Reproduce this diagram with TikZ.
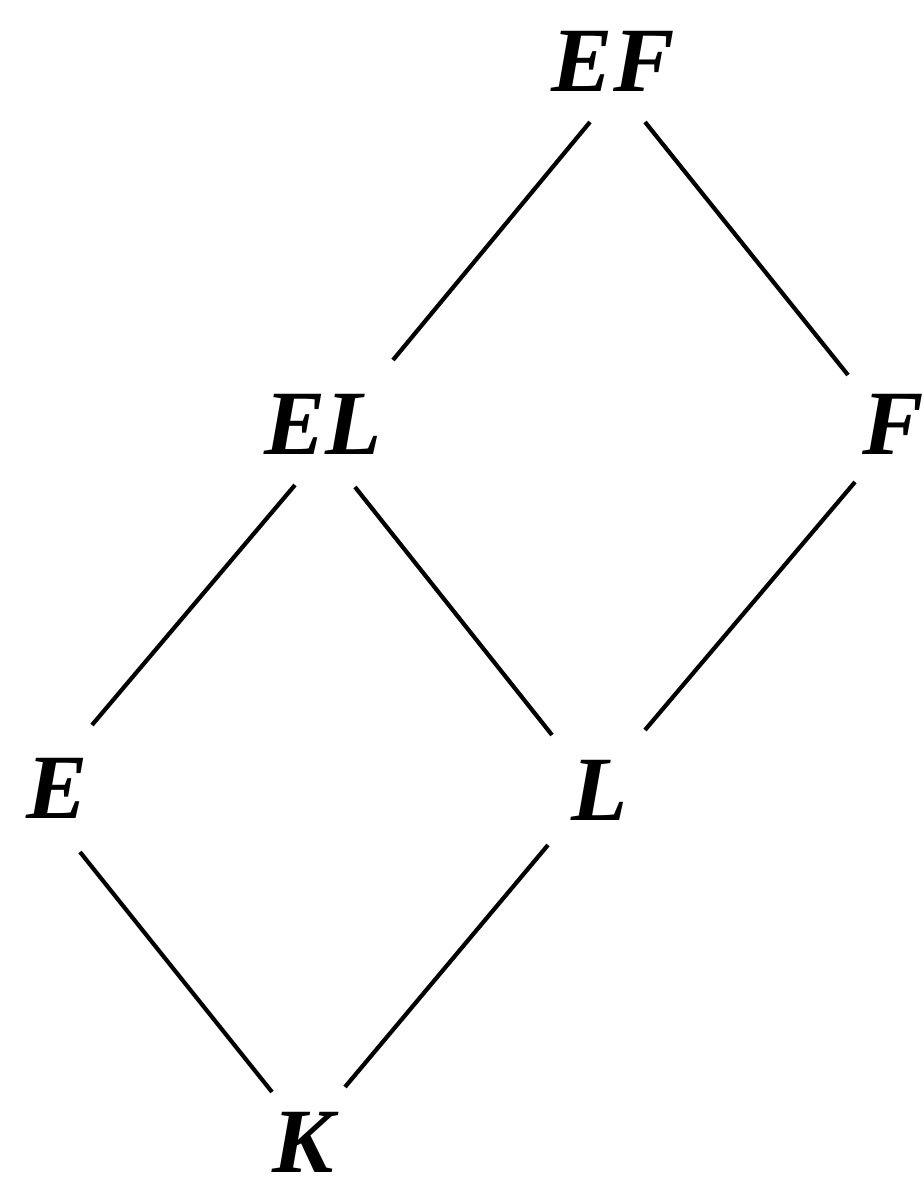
\documentclass[tikz,border=0pt]{standalone}
\usepackage{fontspec}
\setmainfont{Liberation Serif}
\begin{document}
\begin{tikzpicture}[x=0.5pt,y=-0.5pt,
  lbl/.style={inner sep=0pt,font=\fontsize{46}{55}\selectfont\bfseries\itshape},
  edge/.style={line width=2.1pt}]
\useasboundingbox (0,0) rectangle (924,1188);
\node[lbl] (EF) at (613,61) {EF};
\node[lbl] (EL) at (323,424) {EL};
\node[lbl] (F) at (893,424) {F};
\node[lbl] (E) at (57,788) {E};
\node[lbl] (L) at (600,790) {L};
\node[lbl] (K) at (303,1142) {K};
\draw[edge] ([shift={(-23,61)}]EF.center) -- ([shift={(70,-64)}]EL.center);
\draw[edge] ([shift={(32,61)}]EF.center) -- ([shift={(-45,-49)}]F.center);
\draw[edge] ([shift={(-28,61)}]EL.center) -- ([shift={(35,-63)}]E.center);
\draw[edge] ([shift={(32,63)}]EL.center) -- ([shift={(-48,-55)}]L.center);
\draw[edge] ([shift={(-38,58)}]F.center) -- ([shift={(45,-60)}]L.center);
\draw[edge] ([shift={(23,64)}]E.center) -- ([shift={(-31,-50)}]K.center);
\draw[edge] ([shift={(-52,55)}]L.center) -- ([shift={(42,-55)}]K.center);
\end{tikzpicture}
\end{document}
